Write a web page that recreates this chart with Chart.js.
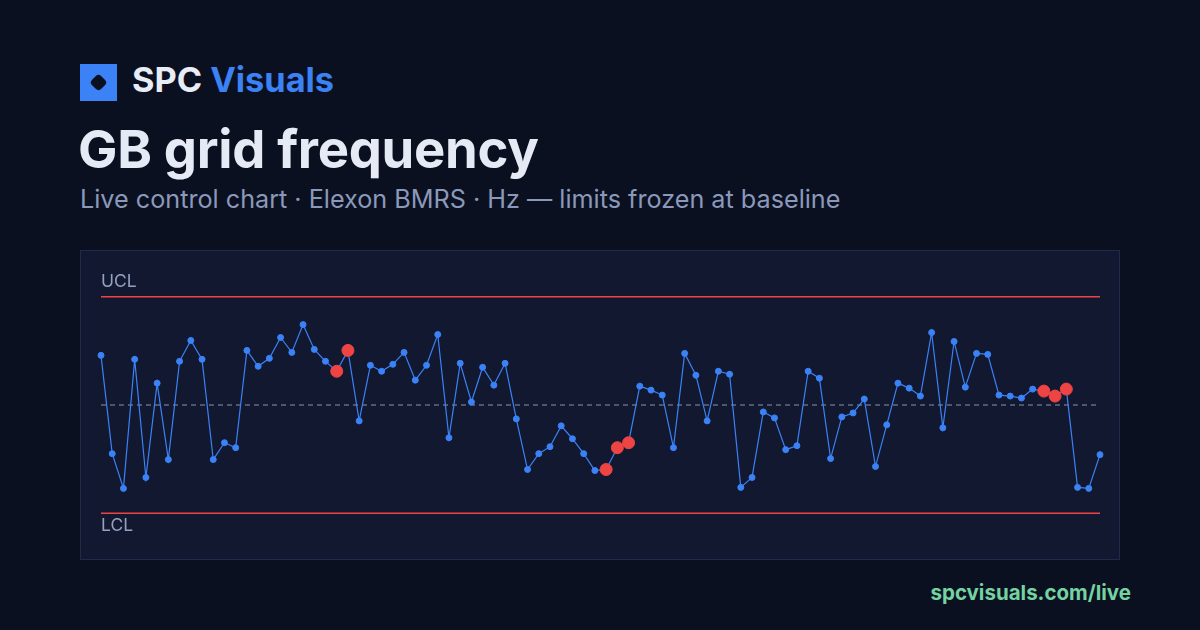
<!DOCTYPE html>
<html>
<head>
<meta charset="utf-8">
<script src="https://cdn.jsdelivr.net/npm/chart.js@4"></script>
<style>
  html, body { margin: 0; padding: 0; }
  body { width: 1200px; height: 630px; background: #0b1020; position: relative; overflow: hidden; font-family: Inter, "Noto Sans", sans-serif; }
  .logo { position: absolute; left: 80px; top: 64px; width: 37px; height: 37px; background: #3b82f6; }
  .logo i { position: absolute; left: 12px; top: 12px; width: 13px; height: 13px; background: #0b1020; border-radius: 4px; transform: rotate(45deg); }
  .brand { position: absolute; left: 132px; top: 59px; font-size: 34.3px; font-weight: 700; color: #e8ecf6; letter-spacing: 0; }
  .brand span { color: #3b82f6; }
  h1 { position: absolute; left: 78px; top: 117px; margin: 0; font-size: 52.6px; font-weight: 700; color: #e6eaf5; letter-spacing: -0.3px; }
  .sub { position: absolute; left: 80px; top: 184px; font-size: 25.2px; color: #8a99ba; letter-spacing: 0; }
  .panel { position: absolute; left: 80px; top: 250px; width: 1038px; height: 308px; background: #111830; border: 1px solid #1f2b4b; }
  canvas { position: absolute; left: -1px; top: -1px; }
  .foot { position: absolute; right: 69px; top: 580px; font-size: 20.5px; font-weight: 700; color: #74d3a2; }
</style>
</head>
<body>
<div class="logo"><i></i></div>
<div class="brand">SPC <span>Visuals</span></div>
<h1>GB grid frequency</h1>
<div class="sub">Live control chart · Elexon BMRS · Hz — limits frozen at baseline</div>
<div class="panel"><canvas id="spcChart" width="1040" height="310"></canvas></div>
<div class="foot">spcvisuals.com/live</div>
<script>
// frequency readings (Hz)
const freq = [
  50.050, 49.951, 49.916, 50.046, 49.927, 50.022, 49.945, 50.044, 50.065, 50.046,
  49.945, 49.962, 49.957, 50.055, 50.039, 50.047, 50.068, 50.053, 50.081, 50.056,
  50.044, 50.034, 50.055, 49.984, 50.040, 50.034, 50.041, 50.053, 50.025, 50.040,
  50.071, 49.967, 50.042, 50.003, 50.038, 50.020, 50.042, 49.986, 49.935, 49.951,
  49.958, 49.979, 49.966, 49.951, 49.934, 49.935, 49.957, 49.962, 50.019, 50.015,
  50.010, 49.957, 50.052, 50.030, 49.984, 50.034, 50.031, 49.917, 49.927, 49.993,
  49.987, 49.955, 49.959, 50.034, 50.027, 49.946, 49.988, 49.992, 50.006, 49.938,
  49.980, 50.022, 50.017, 50.009, 50.073, 49.977, 50.064, 50.018, 50.052, 50.051,
  50.010, 50.009, 50.007, 50.016, 50.014, 50.009, 50.016, 49.917, 49.916, 49.950
];
// indexes flagged by the run rules (shown in red)
const flagged = [21, 22, 45, 46, 47, 84, 85, 86];
const limits = { ucl: 50.109, cl: 50.0, lcl: 49.891 };

const labels = freq.map((_, i) => i + 1);
const isFlag = freq.map((_, i) => flagged.includes(i));

const limitLabels = {
  id: 'limitLabels',
  afterDraw(chart) {
    const ctx = chart.ctx;
    const y = chart.scales.y;
    const left = chart.chartArea.left;
    ctx.save();
    ctx.font = '17.5px Inter, "Noto Sans", sans-serif';
    ctx.fillStyle = '#95a2bd';
    ctx.textBaseline = 'middle';
    ctx.fillText('UCL', left, y.getPixelForValue(limits.ucl) - 15);
    ctx.fillText('LCL', left, y.getPixelForValue(limits.lcl) + 13);
    ctx.restore();
  }
};

new Chart(document.getElementById('spcChart').getContext('2d'), {
  type: 'line',
  data: {
    labels: labels,
    datasets: [
      {
        data: freq,
        borderColor: '#3b82f6',
        borderWidth: 1.2,
        pointBackgroundColor: isFlag.map(f => f ? '#ef4444' : '#3b82f6'),
        pointBorderColor: isFlag.map(f => f ? '#ef4444' : '#3b82f6'),
        pointRadius: isFlag.map(f => f ? 6 : 3),
        pointBorderWidth: 1,
        tension: 0,
        order: 0
      },
      {
        data: labels.map(() => limits.ucl),
        borderColor: '#ef4444', borderWidth: 1.5, pointRadius: 0, order: 2
      },
      {
        data: labels.map(() => limits.lcl),
        borderColor: '#ef4444', borderWidth: 1.5, pointRadius: 0, order: 2
      },
      {
        data: labels.map(() => limits.cl),
        borderColor: '#8b96ad', borderWidth: 1, borderDash: [5, 4], pointRadius: 0, order: 1
      }
    ]
  },
  options: {
    responsive: false,
    animation: false,
    layout: { padding: { left: 21, right: 20, top: 21, bottom: 21 } },
    plugins: { legend: { display: false }, tooltip: { enabled: false } },
    scales: {
      x: { display: false, offset: false },
      y: { display: false, min: 49.865, max: 50.135 }
    }
  },
  plugins: [limitLabels]
});
</script>
</body>
</html>
